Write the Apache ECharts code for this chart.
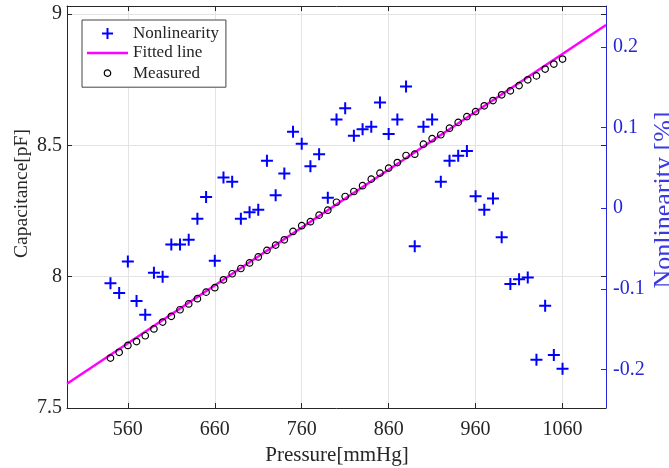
<!DOCTYPE html>
<html>
<head>
<meta charset="utf-8">
<script src="https://cdn.jsdelivr.net/npm/echarts@6/dist/echarts.min.js"></script>
<style>
html, body { margin: 0; padding: 0; background: #fff; }
#main { width: 669px; height: 468px; }
</style>
</head>
<body>
<div id="main"></div>
<script>
var pressure = [540, 550, 560, 570, 580, 590, 600, 610, 620, 630, 640, 650, 660, 670, 680, 690, 700, 710,
  720, 730, 740, 750, 760, 770, 780, 790, 800, 810, 820, 830, 840, 850, 860, 870, 880, 890,
  900, 910, 920, 930, 940, 950, 960, 970, 980, 990, 1000, 1010, 1020, 1030, 1040, 1050, 1060];
var capacitance = [7.690, 7.712, 7.738, 7.753, 7.775, 7.801, 7.827, 7.849, 7.874, 7.896, 7.916, 7.941, 7.958,
  7.988, 8.011, 8.031, 8.052, 8.075, 8.100, 8.120, 8.140, 8.172, 8.194, 8.209, 8.234, 8.253, 8.283,
  8.305, 8.324, 8.346, 8.371, 8.394, 8.413, 8.434, 8.461, 8.466, 8.504, 8.525, 8.540, 8.565, 8.587,
  8.609, 8.628, 8.650, 8.670, 8.692, 8.707, 8.727, 8.749, 8.764, 8.790, 8.809, 8.828];
var nonlinearity = [-0.093, -0.105, -0.066, -0.115, -0.132, -0.080, -0.085, -0.045, -0.045, -0.039, -0.013,
  0.014, -0.065, 0.038, 0.033, -0.013, -0.005, -0.002, 0.059, 0.016, 0.043, 0.095, 0.080, 0.052, 0.067,
  0.013, 0.110, 0.124, 0.090, 0.098, 0.101, 0.131, 0.092, 0.110, 0.151, -0.047, 0.101, 0.110, 0.033,
  0.059, 0.065, 0.071, 0.015, -0.002, 0.012, -0.036, -0.094, -0.088, -0.086, -0.188, -0.121, -0.182, -0.199];
var fitPressure = [490, 1110];
var fitCapacitance = [7.592, 8.958];

var xTicks = [560, 660, 760, 860, 960, 1060];
var capTicks = [7.5, 8, 8.5, 9];
var nonTicks = [-0.2, -0.1, 0, 0.1, 0.2];

var FONT = 'Liberation Serif';
var DARK = '#262626';
var BLUE = '#2626d9';
var PLUS = 'path://M0,5h12v2h-12zM5,0h2v12h-2z';

function pairs(xs, ys) {
  return xs.map(function (x, i) { return [x, ys[i]]; });
}
function plain(v) { return String(v); }

var chart = echarts.init(document.getElementById('main'));

var xBase = {
  type: 'value', min: 490, max: 1110,
  axisLine: { show: true, onZero: false, lineStyle: { color: DARK, width: 1 } },
  axisTick: { show: true, inside: true, length: 5, customValues: xTicks, lineStyle: { color: DARK } },
  splitLine: { show: false }
};

var option = {
  animation: false,
  backgroundColor: '#fff',
  grid: { left: 67, right: 63, top: 6, bottom: 60, containLabel: false },
  xAxis: [
    echarts.util.merge({
      position: 'bottom',
      axisLabel: { customValues: xTicks, formatter: plain, margin: 12, color: DARK, fontFamily: FONT, fontSize: 20 },
      splitLine: { show: true, lineStyle: { color: '#e3e3e3', width: 1 } }
    }, xBase, false),
    echarts.util.merge({
      position: 'top',
      axisLabel: { show: false }
    }, xBase, false)
  ],
  yAxis: [
    {
      type: 'value', min: 7.5, max: 9.03, position: 'left',
      axisLine: { show: true, onZero: false, lineStyle: { color: DARK } },
      axisTick: { show: true, inside: true, length: 5, customValues: capTicks, lineStyle: { color: DARK } },
      axisLabel: { customValues: capTicks, formatter: plain, margin: 5, color: DARK, fontFamily: FONT, fontSize: 20 },
      splitLine: { show: true, lineStyle: { color: '#e3e3e3', width: 1 } }
    },
    {
      type: 'value', min: -0.2477, max: 0.2508, position: 'right',
      axisLine: { show: true, onZero: false, lineStyle: { color: BLUE } },
      axisTick: { show: true, inside: true, length: 5, customValues: nonTicks, lineStyle: { color: BLUE } },
      axisLabel: { customValues: nonTicks, formatter: plain, margin: 7, color: BLUE, fontFamily: FONT, fontSize: 20 },
      splitLine: { show: false }
    },
    {
      // left-axis ticks mirrored on the right side
      type: 'value', min: 7.5, max: 9.03, position: 'right',
      axisLine: { show: false },
      axisTick: { show: true, inside: true, length: 5, customValues: capTicks, lineStyle: { color: DARK } },
      axisLabel: { show: false },
      splitLine: { show: false }
    }
  ],
  legend: {
    left: 82, top: 20, orient: 'vertical',
    itemWidth: 41, itemHeight: 19, itemGap: 0.5,
    padding: [4, 7, 4, 5],
    backgroundColor: '#fff', borderColor: '#444', borderWidth: 1,
    selectedMode: false,
    textStyle: { fontFamily: FONT, fontSize: 17, color: DARK, lineHeight: 19 },
    data: [
      { name: 'Nonlinearity', icon: 'path://M0,0M19,19M4,8.5h11v2h-11zM8.5,4h2v11h-2z',
        itemStyle: { color: '#0000ff', opacity: 1 } },
      { name: 'Fitted line', icon: 'path://M0,0h40v2.5h-40z' },
      { name: 'Measured', icon: 'path://M0,0M19,19M6.3,9.5a3.2,3.2 0 1,0 6.4,0a3.2,3.2 0 1,0 -6.4,0z',
        itemStyle: { color: 'rgba(0,0,0,0)', borderColor: '#000', borderWidth: 1.2, opacity: 1 } }
    ]
  },
  graphic: [
    { type: 'text', x: 22, y: 193.5, rotation: Math.PI / 2,
      style: { text: 'Capacitance[pF]', font: '19.5px "' + FONT + '"', fill: DARK, align: 'center', verticalAlign: 'middle' } },
    { type: 'text', x: 337, y: 455,
      style: { text: 'Pressure[mmHg]', font: '21px "' + FONT + '"', fill: DARK, align: 'center', verticalAlign: 'middle' } },
    { type: 'text', x: 664, y: 200, rotation: Math.PI / 2,
      style: { text: 'Nonlinearity [%]', font: '26px "' + FONT + '"', fill: '#3a3ae0', align: 'center', verticalAlign: 'middle' } }
  ],
  series: [
    {
      name: 'Nonlinearity', type: 'scatter', xAxisIndex: 0, yAxisIndex: 1,
      symbol: PLUS, symbolSize: 12,
      itemStyle: { color: '#0000ff', opacity: 1 },
      data: pairs(pressure, nonlinearity), z: 3
    },
    {
      name: 'Fitted line', type: 'line', xAxisIndex: 0, yAxisIndex: 0,
      showSymbol: false, symbol: 'none',
      lineStyle: { color: '#ff00ff', width: 2.5 },
      itemStyle: { color: '#ff00ff' },
      data: pairs(fitPressure, fitCapacitance), z: 2
    },
    {
      name: 'Measured', type: 'scatter', xAxisIndex: 0, yAxisIndex: 0,
      symbol: 'circle', symbolSize: 6.5,
      itemStyle: { color: 'rgba(0,0,0,0)', borderColor: '#000', borderWidth: 1.2, opacity: 1 },
      data: pairs(pressure, capacitance), z: 4
    }
  ]
};

chart.setOption(option);
</script>
</body>
</html>
